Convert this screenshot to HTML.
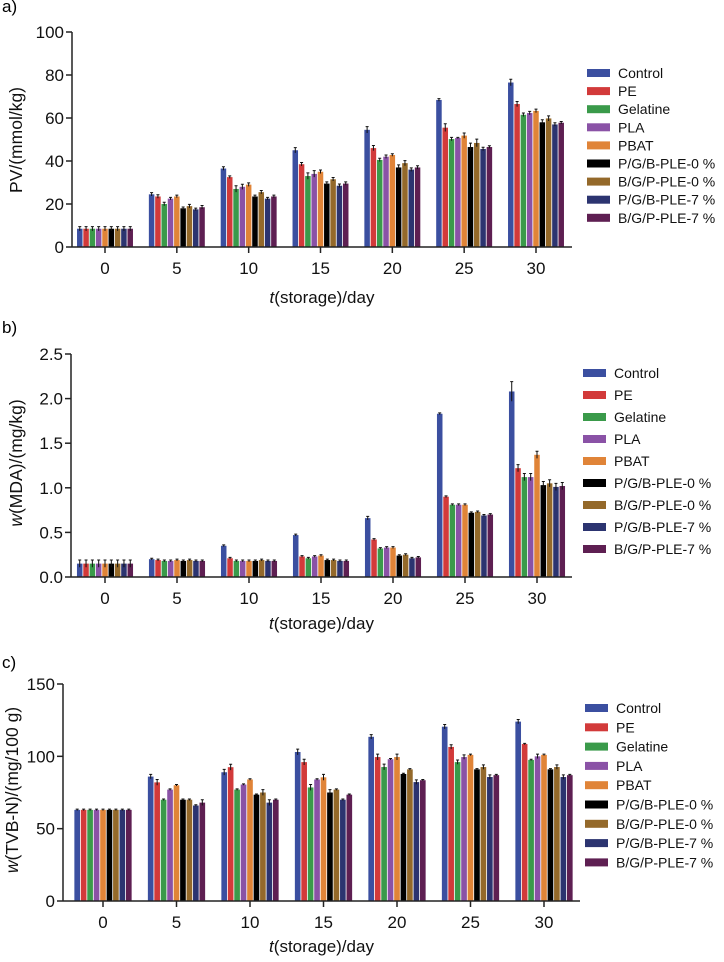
<!DOCTYPE html>
<html><head><meta charset="utf-8"><style>
html,body{margin:0;padding:0;background:#fff;}
svg{display:block;font-family:"Liberation Sans",Arial,sans-serif;}
</style></head><body>
<svg id="chart" width="724" height="962" viewBox="0 0 724 962" xmlns="http://www.w3.org/2000/svg"></svg>
<script>
const categories = ["0","5","10","15","20","25","30"];
const seriesNames = ["Control","PE","Gelatine","PLA","PBAT","P/G/B-PLE-0 %","B/G/P-PLE-0 %","P/G/B-PLE-7 %","B/G/P-PLE-7 %"];
const seriesColors = ["#3b4fa0","#d23a3a","#3a9a4a","#8a52a6","#e08438","#000000","#94692a","#2c3470","#5e1f52"];

// Panel a: PV (mmol/kg), rows = days, cols = series
const pvValues = [
 [8.5,8.5,8.5,8.5,8.5,8.5,8.5,8.5,8.5],
 [24.5,23.5,20,22.5,23.5,18,19,17.5,18.5],
 [36.5,32.5,27,28,29,23.5,25.5,22.5,23.5],
 [45,38.5,33,34,35,29.5,31.5,28.5,29.5],
 [54.5,46,40.5,42,42.8,37,39,36,37],
 [68.4,55.5,50.2,50.7,51.8,46.5,48.4,45.6,46.5],
 [76.5,66.5,61.5,62.3,63.3,58,59.8,57,57.8]];
const pvErrors = [
 [1,1,1,1,1,1,1,1,1],
 [0.8,0.8,0.8,0.6,0.6,0.6,0.8,0.6,0.8],
 [0.8,0.6,1.5,1.2,0.8,0.6,0.8,0.6,0.6],
 [1.2,0.8,1.5,1.5,0.8,0.8,0.8,0.8,0.8],
 [1.5,1.2,0.8,0.8,0.6,1.2,1.2,0.8,0.8],
 [0.6,1.8,0.8,0.3,1.2,1.8,1.8,0.8,0.6],
 [1.5,1.2,0.8,0.8,0.8,1.2,1.2,0.8,0.6]];
const pvTicks = [0,20,40,60,80,100];

// Panel b: MDA (mg/kg)
const mdaValues = [
 [0.15,0.15,0.15,0.15,0.15,0.15,0.15,0.15,0.15],
 [0.2,0.19,0.18,0.18,0.19,0.18,0.19,0.18,0.18],
 [0.35,0.21,0.18,0.18,0.18,0.18,0.19,0.18,0.18],
 [0.47,0.23,0.21,0.23,0.24,0.19,0.19,0.18,0.18],
 [0.66,0.42,0.32,0.33,0.33,0.24,0.25,0.21,0.22],
 [1.83,0.9,0.81,0.81,0.81,0.72,0.73,0.69,0.70],
 [2.08,1.22,1.12,1.12,1.37,1.03,1.05,1.01,1.02]];
const mdaErrors = [
 [0.04,0.04,0.04,0.04,0.04,0.04,0.04,0.04,0.04],
 [0.01,0.01,0.01,0.01,0.01,0.01,0.01,0.01,0.01],
 [0.01,0.01,0.01,0.01,0.01,0.01,0.01,0.01,0.01],
 [0.01,0.01,0.01,0.01,0.01,0.01,0.01,0.01,0.01],
 [0.02,0.01,0.01,0.01,0.01,0.01,0.01,0.01,0.01],
 [0.01,0.01,0.01,0.01,0.01,0.01,0.01,0.01,0.01],
 [0.11,0.04,0.04,0.04,0.04,0.04,0.04,0.04,0.04]];
const mdaTicks = [0,0.5,1.0,1.5,2.0,2.5];

// Panel c: TVB-N (mg/100 g)
const tvbValues = [
 [63,63,63,63,63,63,63,63,63],
 [86,82,70,77,80,70,70,66,68],
 [89,92.5,77,80.5,84,73.5,75,68,70],
 [103,96,78.5,84,85.5,75,77,70,73.5],
 [113.5,99.5,92.6,98,99.5,87.8,91,82.2,83.5],
 [120.5,106.5,96,99.5,101,91,92.6,85.7,87],
 [124,108.5,97.5,100,101,91,92.6,85.7,87]];
const tvbErrors = [
 [0.5,0.5,0.5,0.5,0.5,0.5,0.5,0.5,0.5],
 [1.5,2,0.5,0.5,0.5,0.5,0.5,0.5,2],
 [2,2,0.5,0.5,0.5,0.5,2,2,0.5],
 [2,2,2,0.5,2,2,0.5,0.5,0.5],
 [1.5,2,2,0.5,2,0.5,0.5,1.5,0.5],
 [1.5,1.5,1.5,1.5,0.5,0.5,1.5,1.5,0.5],
 [1.5,0.5,0.5,1.5,0.5,0.5,1.5,1.5,0.5]];
const tvbTicks = [0,50,100,150];

const NS = "http://www.w3.org/2000/svg";
const svg = document.getElementById("chart");
function mk(tag, attrs, parent){
  const e = document.createElementNS(NS, tag);
  for (const k in attrs) e.setAttribute(k, attrs[k]);
  (parent||svg).appendChild(e);
  return e;
}

function panel(cfg){
  const g = mk("g", {});
  
  
  const ymax = cfg.ticks[cfg.ticks.length-1];
  const yScale = v => cfg.y0 - v/ymax*(cfg.y0 - cfg.yTop);
  const step = (cfg.xLast - cfg.xFirst)/(categories.length-1);
  const xScale = i => cfg.xFirst + i*step;
  const groupW = step*0.79;
  const bw = groupW/seriesNames.length;

  const lt = mk("text", {x:2, y:cfg.letterY, "font-size":17, fill:"#000"}, g);
  lt.textContent = cfg.letter;
  
  

  categories.forEach((c, i) => {
    seriesNames.forEach((s, j) => {
      const v = cfg.values[i][j];
      const x = xScale(i) - groupW/2 + j*bw;
      const y = yScale(v);
      const r = mk("rect", {x:x+0.4, y:y, width:bw-0.8, height:cfg.y0-y, fill:seriesColors[j]}, g);
      
      
      const e = cfg.errors[i][j];
      const cx = x + bw/2;
      const eb = mk("path", {d:`M${cx},${yScale(v+e)}V${yScale(Math.max(0,v-e))}M${cx-1.5},${yScale(v+e)}H${cx+1.5}`, stroke:"#111", "stroke-width":1, fill:"none"}, g);
      
      
    });
  });

  const ya = mk("line", {x1:cfg.axisX, y1:cfg.yTop, x2:cfg.axisX, y2:cfg.y0+0.5, stroke:"#222", "stroke-width":1.5}, g);
  
  
  const xa = mk("line", {x1:cfg.axisX, y1:cfg.y0, x2:cfg.axisEnd, y2:cfg.y0, stroke:"#222", "stroke-width":1.5}, g);
  
  

  cfg.ticks.forEach(t => {
    const y = yScale(t);
    mk("line", {x1:cfg.axisX-6, y1:y, x2:cfg.axisX, y2:y, stroke:"#222", "stroke-width":1.5}, g);
    const tx = mk("text", {x:cfg.axisX-8, y:y+6, "font-size":17, "text-anchor":"end", fill:"#111"}, g);
    tx.textContent = cfg.fmt(t);
    
    
  });
  categories.forEach((c, i) => {
    const x = xScale(i);
    mk("line", {x1:x, y1:cfg.y0, x2:x, y2:cfg.y0+6, stroke:"#222", "stroke-width":1.5}, g);
    const tx = mk("text", {x:x, y:cfg.xTickY, "font-size":17, "text-anchor":"middle", fill:"#111"}, g);
    tx.textContent = c;
    
    
  });

  const xt = mk("text", {x:(cfg.axisX+cfg.axisEnd)/2, y:cfg.xTitleY, "font-size":17, "text-anchor":"middle", fill:"#111"}, g);
  xt.innerHTML = '<tspan font-style="italic">t</tspan>(storage)/day';
  
  
  const yt = mk("text", {x:0, y:0, "font-size":17.5, "text-anchor":"middle", fill:"#111", transform:`translate(${cfg.yTitleX},${cfg.yTitleY}) rotate(-90)`}, g);
  yt.innerHTML = cfg.yTitle;
  
  

  const lg = mk("g", {}, g);
  
  
  seriesNames.forEach((s, j) => {
    const y = cfg.legY + j*cfg.legStep;
    const ent = mk("g", {}, lg);
    
    
    mk("rect", {x:cfg.legX, y:y-4, width:23, height:8, fill:seriesColors[j]}, ent);
    const t = mk("text", {x:cfg.legX+31, y:y+5, "font-size":14, fill:"#111"}, ent);
    t.textContent = s;
  });
}

panel({key:"pv", letter:"a)", letterY:12, values:pvValues, errors:pvErrors, ticks:pvTicks,
  fmt:t=>String(t), y0:247, yTop:32, axisX:72, axisEnd:572, xFirst:105, xLast:536,
  xTickY:274, xTitleY:303, yTitle:"PV/(mmol/kg)", yTitleX:22, yTitleY:140,
  legX:587, legY:73, legStep:18.1});
panel({key:"mda", letter:"b)", letterY:333, values:mdaValues, errors:mdaErrors, ticks:mdaTicks,
  fmt:t=>t.toFixed(1), y0:577, yTop:354, axisX:71, axisEnd:572, xFirst:105, xLast:537,
  xTickY:604, xTitleY:629, yTitle:'<tspan font-style="italic">w</tspan>(MDA)/(mg/kg)', yTitleX:22, yTitleY:463,
  legX:583, legY:373, legStep:22});
panel({key:"tvb", letter:"c)", letterY:668, values:tvbValues, errors:tvbErrors, ticks:tvbTicks,
  fmt:t=>String(t), y0:901, yTop:684, axisX:63, axisEnd:580, xFirst:103, xLast:544,
  xTickY:928, xTitleY:952, yTitle:'<tspan font-style="italic">w</tspan>(TVB-N)/(mg/100 g)', yTitleX:18, yTitleY:790,
  legX:585, legY:708, legStep:19.3});
</script>
</body></html>
